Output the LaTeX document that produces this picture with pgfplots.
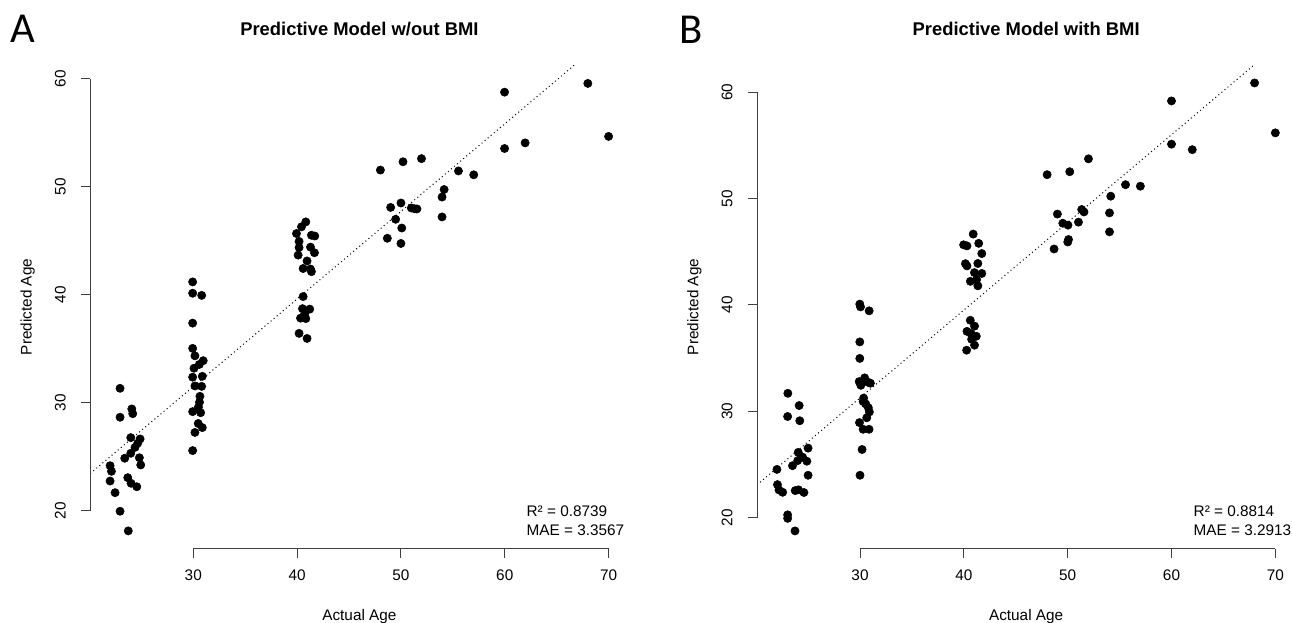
\documentclass[border=0pt]{standalone}
\usepackage{fontspec}
\setmainfont{Liberation Sans}
\newfontfamily\panelfont{Carlito}
\usepackage{pgfplots}
\pgfplotsset{compat=1.18}

\pgfplotsset{rplot/.style={
    scale only axis, width=403.7pt, height=362.8pt, anchor=south west,
    xmin=20.08, xmax=71.92,
    axis x line*=bottom, axis y line*=left,
    axis line style={draw=none},
    clip mode=individual,
    xtick={30,40,50,60,70}, ytick={20,30,40,50,60},
    tick align=outside, major tick length=7pt,
    tick style={black!75, line width=0.75pt},
    /pgf/number format/assume math mode=true,
    ticklabel style={font=\fontsize{11.5}{13}\selectfont},
    xticklabel style={anchor=base, yshift=-16.9pt},
    yticklabel style={xshift=-11.4pt, rotate=90, anchor=base},
    xlabel={Actual Age}, ylabel={Predicted Age},
    label style={font=\fontsize{11.5}{13}\selectfont},
    xlabel style={at={(axis description cs:0.5,-0.148)}, anchor=base},
    ylabel style={at={(axis description cs:-0.1165,0.5)}, anchor=center},
    title style={at={(axis description cs:0.5,1.0454)}, anchor=base,
        font=\bfseries\fontsize{13.8}{16}\selectfont},
}}
\pgfplotsset{pts/.style={only marks, mark=*, mark size=3.1pt, black}}
\pgfplotsset{fit/.style={no marks, black, line width=0.75pt, dash pattern=on 0.75pt off 2.25pt}}

\begin{document}
\begin{tikzpicture}
\useasboundingbox (0,0) rectangle (969pt,466.5pt);

% panel A
\begin{axis}[rplot, at={(67.7pt,54.9pt)}, ymin=16.47, ymax=61.29,
    title={Predictive Model w/out BMI}]
  \addplot[fit] coordinates {(20.08,23.45) (66.71,61.29)};
  \addplot[pts] coordinates {
    (22.95,31.34) (24.08,29.43) (24.17,28.99) (22.95,28.66) (23.98,26.77)
    (24.88,26.65) (24.65,26.25) (24.39,25.87) (23.98,25.32) (23.40,24.86)
    (24.81,24.91) (24.94,24.24) (21.99,24.17) (22.12,23.65) (21.99,22.75)
    (23.69,23.06) (24.01,22.54) (24.56,22.22) (22.47,21.67) (22.95,19.95)
    (23.74,18.13)
    (29.94,41.20) (29.94,40.15) (30.81,39.95) (29.94,37.38) (29.94,35.04)
    (30.16,34.35) (30.96,33.90) (30.58,33.55) (30.07,33.20) (29.94,32.37)
    (30.87,32.45) (30.16,31.56) (30.81,31.52) (30.64,30.60) (30.60,30.05)
    (30.50,29.60) (29.94,29.18) (30.71,29.08) (30.48,28.08) (30.87,27.70)
    (30.16,27.25) (29.94,25.57)
    (40.84,46.76) (40.42,46.30) (39.94,45.68) (41.38,45.52) (41.70,45.45)
    (40.19,44.95) (40.19,44.38) (41.29,44.42) (41.67,43.90) (40.10,43.68)
    (40.96,43.14) (40.58,42.44) (41.29,42.39) (41.38,42.15) (40.58,39.84)
    (40.52,38.72) (41.22,38.68) (40.74,38.28) (40.33,37.84) (40.84,37.80)
    (40.19,36.43) (40.96,35.96)
    (48.02,51.56) (50.20,52.33) (51.98,52.62) (49.01,48.10) (50.00,48.51)
    (49.49,47.00) (51.00,48.05) (51.30,47.98) (51.54,47.96) (48.69,45.24)
    (50.08,46.19) (50.00,44.76) (53.96,49.06) (54.16,49.76) (53.96,47.22)
    (55.54,51.48) (57.01,51.12)
    (59.98,58.78) (59.98,53.56) (61.96,54.08) (68.00,59.59) (70.00,54.68)
  };
  \draw[black!75, line width=0.75pt] (axis cs:30,16.47) -- (axis cs:70,16.47);
  \draw[black!75, line width=0.75pt] (axis cs:20.08,20) -- (axis cs:20.08,60);
  \node[anchor=base west, font=\fontsize{11.5}{13}\selectfont] at (rel axis cs:0.802,0.0668) {R² = 0.8739};
  \node[anchor=base west, font=\fontsize{11.5}{13}\selectfont] at (rel axis cs:0.802,0.0275) {MAE = 3.3567};
\end{axis}

% panel B
\begin{axis}[rplot, at={(567.75pt,54.9pt)}, ymin=17.09, ymax=62.54,
    title={Predictive Model with BMI}]
  \addplot[fit] coordinates {(20.08,23.10) (67.94,62.54)};
  \addplot[pts] coordinates {
    (22.00,24.55) (22.05,23.12) (22.20,22.62) (22.55,22.40) (23.03,29.52)
    (23.03,20.28) (23.03,19.95) (23.05,31.70) (24.14,30.55) (24.20,29.12)
    (23.50,24.90) (24.05,26.15) (24.00,25.38) (24.47,25.70) (24.88,25.32)
    (25.00,26.55) (25.00,24.00) (23.76,22.56) (24.08,22.63) (24.60,22.38)
    (23.74,18.77)
    (29.98,40.08) (30.05,39.82) (30.88,39.45) (29.98,36.53) (29.98,34.98)
    (30.45,33.15) (29.92,32.80) (30.08,32.45) (30.75,32.75) (31.00,32.65)
    (30.35,31.25) (30.30,30.93) (30.80,30.35) (30.90,29.95) (30.65,29.40)
    (29.95,28.95) (30.30,28.32) (30.87,28.32) (30.20,26.42) (30.00,24.00)
    (30.55,30.70)
    (39.98,45.65) (40.30,45.55) (40.90,46.66) (41.43,45.79) (41.73,44.83)
    (40.15,43.88) (40.30,43.67) (41.35,43.90) (41.02,43.04) (41.73,42.96)
    (40.63,42.22) (41.23,42.38) (41.35,41.80) (40.62,38.56) (41.03,38.01)
    (40.30,37.52) (40.70,37.30) (41.20,37.06) (40.75,36.77) (41.03,36.22)
    (40.27,35.75)
    (48.02,52.24) (50.20,52.52) (52.00,53.73) (49.01,48.54) (49.53,47.68)
    (50.03,47.50) (51.04,47.78) (51.35,48.97) (51.57,48.74) (50.08,46.15)
    (50.01,45.92) (48.69,45.26) (54.15,50.22) (54.03,48.65) (54.03,46.87)
    (55.57,51.30) (57.00,51.16)
    (60.00,59.17) (60.00,55.11) (62.00,54.59) (68.00,60.86) (70.00,56.17)
  };
  \draw[black!75, line width=0.75pt] (axis cs:30,17.09) -- (axis cs:70,17.09);
  \draw[black!75, line width=0.75pt] (axis cs:20.08,20) -- (axis cs:20.08,60);
  \node[anchor=base west, font=\fontsize{11.5}{13}\selectfont] at (rel axis cs:0.8025,0.0668) {R² = 0.8814};
  \node[anchor=base west, font=\fontsize{11.5}{13}\selectfont] at (rel axis cs:0.8025,0.0275) {MAE = 3.2913};
\end{axis}

\node[anchor=base west, inner sep=0pt, font=\panelfont\fontsize{32}{36}\selectfont] at (8pt,434.25pt) {A};
\node[anchor=base west, inner sep=0pt, font=\panelfont\fontsize{32}{36}\selectfont] at (509.5pt,434pt) {B};
\end{tikzpicture}
\end{document}
